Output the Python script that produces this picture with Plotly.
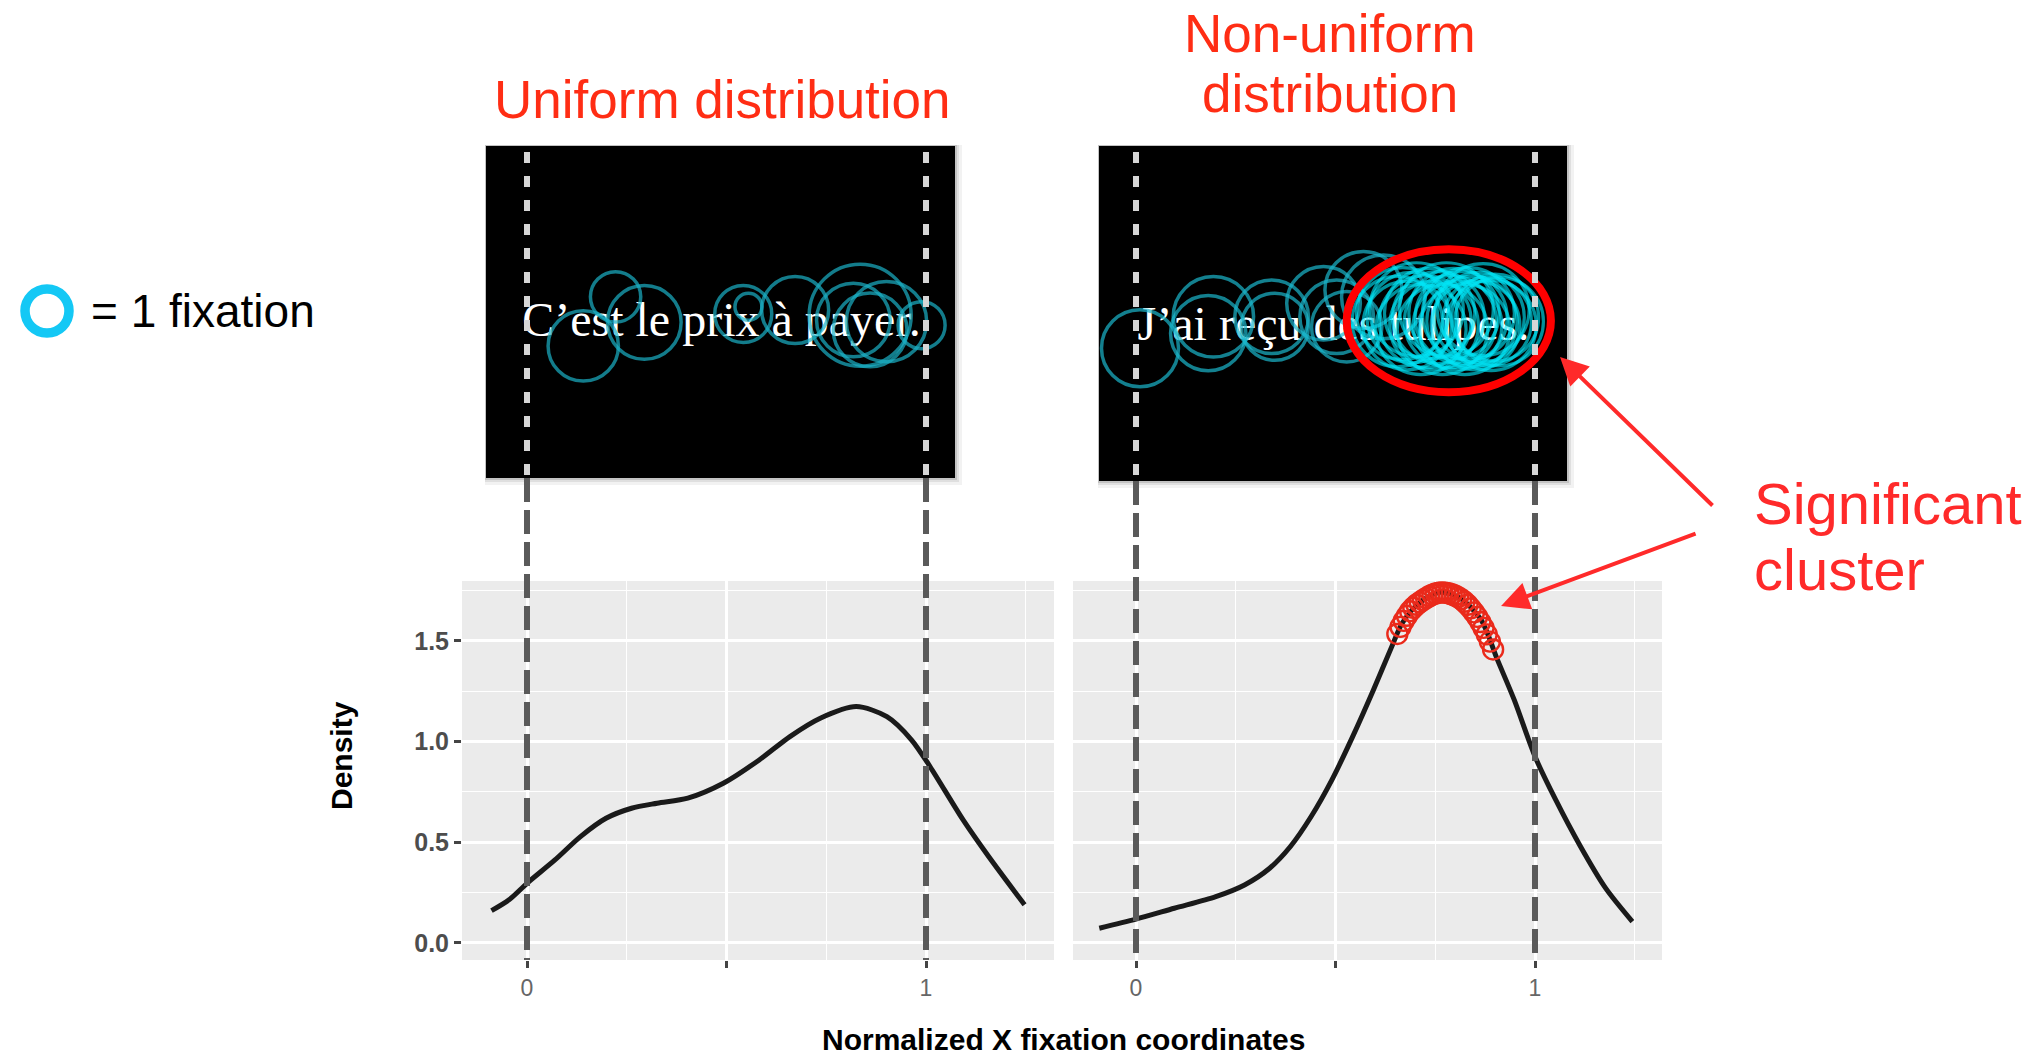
import plotly.graph_objects as go

W, H = 2039, 1060

# ---------------- data ----------------
boundaries = [0, 1]                     # normalized sentence start / end

# density curve, uniform sentence
left_x = [-0.089, -0.045, 0.0, 0.070, 0.134, 0.198, 0.262, 0.326, 0.403, 0.492,
          0.582, 0.659, 0.735, 0.825, 0.902, 0.964, 1.010, 1.093, 1.157, 1.247]
left_y = [0.160, 0.214, 0.296, 0.412, 0.528, 0.619, 0.669, 0.694, 0.719, 0.793,
          0.909, 1.025, 1.116, 1.174, 1.124, 1.008, 0.876, 0.611, 0.429, 0.189]

# density curve, non-uniform sentence
right_x = [-0.092, 0.0, 0.096, 0.200, 0.272, 0.335, 0.387, 0.439, 0.491, 0.543,
           0.595, 0.641, 0.667, 0.709, 0.761, 0.813, 0.865, 0.906, 0.948, 1.0,
           1.052, 1.114, 1.177, 1.244]
right_y = [0.073, 0.118, 0.172, 0.230, 0.288, 0.371, 0.479, 0.628, 0.810, 1.025,
           1.257, 1.472, 1.588, 1.687, 1.742, 1.712, 1.605, 1.406, 1.207, 0.926,
           0.710, 0.479, 0.272, 0.106]

# significant cluster points on the non-uniform density
sig_x = [0.655, 0.663, 0.671, 0.679, 0.687, 0.695, 0.703, 0.711, 0.719, 0.727,
         0.735, 0.743, 0.751, 0.759, 0.767, 0.775, 0.783, 0.791, 0.799, 0.807,
         0.815, 0.823, 0.831, 0.839, 0.847, 0.855, 0.863, 0.871, 0.879, 0.887, 0.895]
sig_y = [1.535, 1.570, 1.600, 1.625, 1.648, 1.665, 1.680, 1.692, 1.703, 1.713,
         1.722, 1.730, 1.736, 1.740, 1.741, 1.740, 1.737, 1.732, 1.726, 1.718,
         1.708, 1.695, 1.680, 1.662, 1.642, 1.620, 1.594, 1.565, 1.533, 1.497, 1.458]

# fixations (x normalized, y in same units from top of screen, duration ms)
sentence_left = "C’est le prix à payer."
sentence_right = "J’ai reçu des tulipes."
left_fix_x = [0.141, 0.222, 0.294, 0.542, 0.555, 0.672, 0.835, 0.818, 0.860, 0.901, 0.989]
left_fix_y = [0.501, 0.378, 0.442, 0.421, 0.403, 0.411, 0.424, 0.436, 0.461, 0.440, 0.449]
left_fix_dur = [220, 160, 230, 180, 90, 210, 315, 230, 230, 250, 150]

right_fix_x = [0.010, 0.194, 0.181, 0.340, 0.348, 0.503, 0.528, 0.620, 0.470, 0.570]
right_fix_y = [0.507, 0.428, 0.469, 0.428, 0.453, 0.428, 0.453, 0.378, 0.394, 0.361]
right_fix_dur = [240, 250, 235, 230, 210, 230, 220, 260, 230, 240]

clust_fix_x = [0.655, 0.668, 0.680, 0.692, 0.703, 0.714, 0.725, 0.736, 0.747, 0.758,
               0.768, 0.778, 0.788, 0.797, 0.806, 0.815, 0.824, 0.833, 0.842, 0.851,
               0.860, 0.870, 0.880, 0.890, 0.900, 0.910]
clust_fix_y = [0.44, 0.42, 0.45, 0.43, 0.41, 0.46, 0.44, 0.42, 0.45, 0.43,
               0.46, 0.41, 0.44, 0.42, 0.45, 0.43, 0.46, 0.42, 0.44, 0.45,
               0.43, 0.41, 0.44, 0.45, 0.43, 0.44]
clust_fix_dur = [280, 285, 275, 280, 290, 280, 285, 280, 275, 285,
                 280, 290, 285, 280, 275, 285, 280, 285, 280, 275,
                 280, 285, 275, 280, 270, 275]

x_tickvals = [0, 0.5, 1]
x_ticktext = ["0", "", "1"]
x_minor = [0.25, 0.75, 1.25]
y_tickvals = [0, 0.5, 1.0, 1.5]
y_ticktext = ["0.0", "0.5", "1.0", "1.5"]
y_minor = [0.25, 0.75, 1.25, 1.75]

# ---------------- layout helpers ----------------
def px_x(v):
    return v / W

def px_y(v):
    return 1 - v / H

MS_PER_PX = 3.0
UNIT = 399.0             # pixels per normalized unit (horizontal)

SANS = "Liberation Sans"
SERIF = "Liberation Serif"
RED_TXT = "#FF2D14"

fig = go.Figure()

# sentence text (drawn below the fixation circles)
fig.add_trace(go.Scatter(x=[boundaries[0] - 0.012], y=[0.446], mode="text", text=[sentence_left],
                         textposition="middle right",
                         textfont=dict(family=SERIF, size=48, color="white"),
                         xaxis="x3", yaxis="y3", showlegend=False, hoverinfo="skip"))
fig.add_trace(go.Scatter(x=[boundaries[0] + 0.004], y=[0.455], mode="text", text=[sentence_right],
                         textposition="middle right",
                         textfont=dict(family=SERIF, size=48, color="white"),
                         xaxis="x4", yaxis="y4", showlegend=False, hoverinfo="skip"))

# fixation circles
fig.add_trace(go.Scatter(x=left_fix_x, y=left_fix_y, mode="markers", xaxis="x3", yaxis="y3",
                         marker=dict(symbol="circle-open", color="#1BB0C6",
                                     size=[d / MS_PER_PX - 3 for d in left_fix_dur],
                                     line=dict(width=3.5)),
                         showlegend=False, hoverinfo="skip"))
fig.add_trace(go.Scatter(x=right_fix_x, y=right_fix_y, mode="markers", xaxis="x4", yaxis="y4",
                         marker=dict(symbol="circle-open", color="#1BB7CC",
                                     size=[d / MS_PER_PX - 3 for d in right_fix_dur],
                                     line=dict(width=3.5)),
                         showlegend=False, hoverinfo="skip"))
fig.add_trace(go.Scatter(x=clust_fix_x, y=clust_fix_y, mode="markers", xaxis="x4", yaxis="y4",
                         marker=dict(symbol="circle-open", color="rgba(0,228,245,0.9)",
                                     size=[d / MS_PER_PX - 3 for d in clust_fix_dur],
                                     line=dict(width=3.2)),
                         showlegend=False, hoverinfo="skip"))

# density curves
fig.add_trace(go.Scatter(x=left_x, y=left_y, mode="lines", xaxis="x", yaxis="y",
                         line=dict(color="#1A1A1A", width=5, shape="spline", smoothing=0.8),
                         showlegend=False, hoverinfo="skip"))
fig.add_trace(go.Scatter(x=right_x, y=right_y, mode="lines", xaxis="x2", yaxis="y2",
                         line=dict(color="#1A1A1A", width=5, shape="spline", smoothing=0.8),
                         showlegend=False, hoverinfo="skip"))
fig.add_trace(go.Scatter(x=sig_x, y=sig_y, mode="markers", xaxis="x2", yaxis="y2",
                         marker=dict(symbol="circle-open", size=20, color="#EA2A1B",
                                     line=dict(width=2.4)),
                         showlegend=False, hoverinfo="skip"))

# ---------------- axes ----------------
PLOT_TOP, PLOT_BOT = 581, 960
IMG_TOP = 146
L_IMG = (486, 955, 478)     # left, right, bottom px
R_IMG = (1099, 1567, 481)
L_ZERO, R_ZERO = 527, 1136

def plot_xaxis(dom_l, dom_r, zero_px):
    return dict(domain=[px_x(dom_l), px_x(dom_r)],
                range=[(dom_l - zero_px) / UNIT, (dom_r - zero_px) / UNIT],
                tickmode="array", tickvals=x_tickvals, ticktext=x_ticktext,
                ticks="outside", ticklen=7, tickwidth=2.5, tickcolor="#444",
                tickfont=dict(family=SANS, size=23, color="#666"),
                showgrid=True, gridcolor="white", gridwidth=2.5,
                minor=dict(tickmode="array", tickvals=x_minor, showgrid=True,
                           gridcolor="white", gridwidth=1.3, ticks=""),
                zeroline=False, showline=False, fixedrange=True)

y_common = dict(domain=[px_y(PLOT_BOT), px_y(PLOT_TOP)], range=[-0.085, 1.798],
                tickmode="array", tickvals=y_tickvals, ticktext=y_ticktext,
                showgrid=True, gridcolor="white", gridwidth=3,
                minor=dict(tickmode="array", tickvals=y_minor, showgrid=True,
                           gridcolor="white", gridwidth=1.4, ticks=""),
                zeroline=False, showline=False, fixedrange=True)

def img_axes(box, zero_px):
    l, r, b = box
    xa = dict(domain=[px_x(l), px_x(r)], range=[(l - zero_px) / UNIT, (r - zero_px) / UNIT],
              visible=False, fixedrange=True)
    ya = dict(domain=[px_y(b), px_y(IMG_TOP)], range=[(b - IMG_TOP) / UNIT, 0],
              visible=False, fixedrange=True)
    return xa, ya

x3, y3 = img_axes(L_IMG, L_ZERO)
x4, y4 = img_axes(R_IMG, R_ZERO)
x3["anchor"] = "y3"; y3["anchor"] = "x3"
x4["anchor"] = "y4"; y4["anchor"] = "x4"

fig.update_layout(
    width=W, height=H, margin=dict(l=0, r=0, t=0, b=0),
    paper_bgcolor="white", plot_bgcolor="#EBEBEB",
    showlegend=False,
    xaxis=dict(plot_xaxis(462, 1054, L_ZERO), anchor="y"),
    xaxis2=dict(plot_xaxis(1073, 1662, R_ZERO), anchor="y2"),
    yaxis=dict(y_common, anchor="x", ticks="outside", ticklen=7, tickwidth=2.5, tickcolor="#444",
               tickfont=dict(family=SANS, size=25, color="#4D4D4D", weight="bold")),
    yaxis2=dict(y_common, anchor="x2", showticklabels=False, ticks=""),
    xaxis3=x3, yaxis3=y3, xaxis4=x4, yaxis4=y4,
)

# ---------------- shapes ----------------
shapes = []
# soft shadows and black screens
for (l, r, b), ax in ((L_IMG, "3"), (R_IMG, "4")):
    for off, alpha in ((7, 0.05), (4, 0.08), (2, 0.12)):
        shapes.append(dict(type="rect", xref="paper", yref="paper", layer="below",
                           x0=px_x(l - 1), x1=px_x(r + off), y0=px_y(b + off), y1=px_y(IMG_TOP - 1),
                           fillcolor=f"rgba(0,0,0,{alpha})", line=dict(width=0)))
    shapes.append(dict(type="rect", xref=f"x{ax} domain", yref=f"y{ax} domain", layer="below",
                       x0=0, x1=1, y0=0, y1=1, fillcolor="black", line=dict(width=0)))

# highlight ellipse around the cluster fixations (bounding box of circles)
r_data = [d / MS_PER_PX / 2 / UNIT for d in clust_fix_dur]
ex0 = min(x - r for x, r in zip(clust_fix_x, r_data)) - 0.01
ex1 = max(x + r for x, r in zip(clust_fix_x, r_data)) + 0.015
ey0 = min(y - r for y, r in zip(clust_fix_y, r_data)) - 0.03
ey1 = max(y + r for y, r in zip(clust_fix_y, r_data)) + 0.04
shapes.append(dict(type="circle", xref="x4", yref="y4", x0=ex0, x1=ex1, y0=ey0, y1=ey1,
                   line=dict(color="#FF0000", width=8), layer="above"))

# dashed boundary lines
for xr, (l, r, b) in (("x", L_IMG), ("x2", R_IMG)):
    for bnd in boundaries:
        shapes.append(dict(type="line", xref=xr, yref="paper", x0=bnd, x1=bnd,
                           y0=px_y(IMG_TOP + 6), y1=px_y(b),
                           line=dict(color="#D6D6D6", width=6, dash="11px,13px"), layer="above"))
        shapes.append(dict(type="line", xref=xr, yref="paper", x0=bnd, x1=bnd,
                           y0=px_y(b), y1=px_y(PLOT_BOT),
                           line=dict(color="#5A5A5A", width=6, dash="24px,8px"), layer="above"))

# legend ring
shapes.append(dict(type="circle", xref="paper", yref="paper",
                   x0=px_x(47 - 22), x1=px_x(47 + 22), y0=px_y(311 + 22), y1=px_y(311 - 22),
                   line=dict(color="#14C8F5", width=9.5), layer="above"))
fig.update_layout(shapes=shapes)

# ---------------- annotations ----------------
ann = []
def txt(text, x, y, size, color, xanchor="center", bold=False, angle=0, family=SANS):
    ann.append(dict(text=text, x=px_x(x), y=px_y(y), xref="paper", yref="paper",
                    xanchor=xanchor, yanchor="middle", showarrow=False, textangle=angle,
                    font=dict(family=family, size=size, color=color,
                              weight="bold" if bold else "normal")))

txt("Uniform distribution", 722, 100, 53, RED_TXT)
txt("Non-uniform", 1330, 34, 53, RED_TXT)
txt("distribution", 1330, 94, 53, RED_TXT)
txt("Significant", 1752, 503, 58, "#FF2A2A", xanchor="left")
txt("cluster", 1752, 569, 58, "#FF2A2A", xanchor="left")
txt("= 1 fixation", 89, 311, 46, "black", xanchor="left")
txt("Density", 341, 756, 30, "black", bold=True, angle=-90)
txt("Normalized X fixation coordinates", 1063, 1039, 30, "black", bold=True)

# arrows
ann.append(dict(text="", showarrow=True, x=(1560 - R_ZERO) / UNIT, y=(357 - IMG_TOP) / UNIT,
                xref="x4", yref="y4", ax=154, ay=150, arrowcolor="#FF2A2A",
                arrowwidth=4, arrowhead=2, arrowsize=1.4, standoff=0))
ann.append(dict(text="", showarrow=True, x=0.915, y=1.674, xref="x2", yref="y2",
                ax=196, ay=-73, arrowcolor="#FF2A2A",
                arrowwidth=4, arrowhead=2, arrowsize=1.4, standoff=0))
fig.update_layout(annotations=ann)

fig.write_html("out.html", config={"displayModeBar": False},
               post_script="document.body.style.margin='0';document.body.style.overflow='hidden';")
